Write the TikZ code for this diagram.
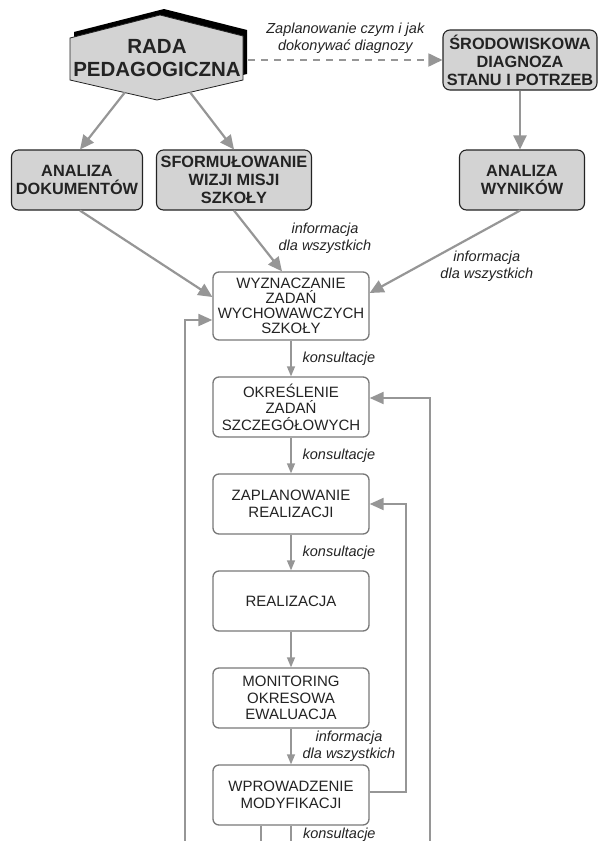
\documentclass[tikz,border=0pt]{standalone}
\usepackage{fontspec}
\setmainfont{Liberation Sans}
\usetikzlibrary{arrows.meta,calc,positioning}
\definecolor{linegray}{RGB}{150,150,150}
\definecolor{boxgray}{RGB}{211,211,211}
\definecolor{framegray}{RGB}{120,120,120}
\definecolor{inkgray}{RGB}{35,35,35}

\begin{document}
\begin{tikzpicture}[
      x=1pt, y=-1pt, node distance=97pt, on grid,
      every node/.style={text=inkgray},
      task/.style={rectangle, rounded corners=6pt, draw=framegray, line width=1.3pt, fill=white,
        minimum width=156pt, minimum height=60pt, align=center, inner sep=1pt,
        font=\fontsize{15}{16.5}\selectfont},
      greybox/.style={rectangle, rounded corners=7pt, draw=inkgray, line width=1.1pt, fill=boxgray,
        minimum height=60pt, align=center, inner sep=1pt,
        font=\fontsize{16.3}{18}\selectfont\bfseries},
      note/.style={font=\fontsize{14.5}{17}\selectfont\itshape, align=center, inner sep=1pt},
      flow/.style={draw=linegray, line width=2.2pt, -{Triangle[length=14pt,width=13pt]}},
      chain/.style={draw=linegray, line width=1.3pt, -{Triangle[length=10pt,width=8pt]}},
      loopback/.style={draw=linegray, line width=2pt, -{Triangle[length=14pt,width=12pt]}},
      stub/.style={draw=linegray, line width=2pt}]

      \useasboundingbox (0,0) rectangle (600,841);

      % Hexagon
      \coordinate (radac) at (157,58);
      \begin{scope}[shift={(radac)}]
        \fill[black] (7,-49) -- (90,-28) -- (90,16) -- (4,36) -- (-83,16) -- (-83,-26) -- cycle;
        \draw[fill=boxgray, draw=inkgray, line width=.8pt]
          (3,-43) -- (86,-22) -- (86,22) -- (0,42) -- (-87,22) -- (-87,-20) -- cycle;
      \end{scope}
      \node[font=\fontsize{20.5}{23}\selectfont\bfseries, align=center, inner sep=0pt,
            minimum width=172pt, minimum height=44pt] (rada) at (radac) {RADA\\PEDAGOGICZNA};

      % Upper boxes
      \node[greybox, minimum width=154pt] (srod) at (520,60) {ŚRODOWISKOWA\\DIAGNOZA\\STANU I POTRZEB};
      \node[greybox, minimum width=131pt] (adok) at (77,180) {ANALIZA\\DOKUMENTÓW};
      \node[greybox, minimum width=155pt, right=157pt of adok] (sform) {SFORMUŁOWANIE\\WIZJI MISJI\\SZKOŁY};
      \node[greybox, minimum width=125pt] (awyn) at (522,180) {ANALIZA\\WYNIKÓW};

      % Task chain
      \node[task, minimum height=68pt, font=\fontsize{15}{15}\selectfont] (wyz) at (291,306)
            {WYZNACZANIE\\ZADAŃ\\WYCHOWAWCZYCH\\SZKOŁY};
      \node[task, below=101pt of wyz] (okr) {OKREŚLENIE\\ZADAŃ\\SZCZEGÓŁOWYCH};
      \node[task, below=of okr] (zapl) {ZAPLANOWANIE\\REALIZACJI};
      \node[task, below=of zapl] (real) {REALIZACJA};
      \node[task, below=of real] (mon) {MONITORING\\OKRESOWA\\EWALUACJA};
      \node[task, below=of mon] (wpr) {WPROWADZENIE\\MODYFIKACJI};

      % Edges (top)
      \draw[flow] ($(rada.south)+(-32,12)$) -- ($(adok.north)+(3,0)$);
      \draw[flow] ($(rada.south)+(33,12)$) -- (sform.north);
      \draw[flow, line width=1.8pt, dash pattern=on 7pt off 6pt]
            ($(rada.east)+(5,2)$) -- node[note, midway, above=5pt] {Zaplanowanie czym i jak\\dokonywać diagnozy} (srod.west);
      \draw[flow] (srod.south) -- (srod.south |- awyn.north);
      \draw[flow] ($(adok.south)+(3,0)$) -- ($(wyz.west)+(0,-9)$);
      \draw[flow] (sform.south) -- node[note, midway, xshift=67pt, yshift=3pt] {informacja\\dla wszystkich}
            ($(wyz.north)+(-9,0)$);
      \draw[flow] ($(awyn.south)+(-2,0)$) -- node[note, midway, xshift=42pt, yshift=-14pt] {informacja\\dla wszystkich}
            ($(wyz.east)+(0,-13)$);

      % Edges (chain)
      \draw[chain] (wyz) -- node[note, right=10pt] {konsultacje} (okr);
      \draw[chain] (okr) -- node[note, right=10pt] {konsultacje} (zapl);
      \draw[chain] (zapl) -- node[note, right=10pt] {konsultacje} (real);
      \draw[chain] (real) -- (mon);
      \draw[chain] (mon) -- node[note, right=10pt] {informacja\\dla wszystkich} (wpr);

      % Feedback
      \coordinate (leftfoot) at (185,841);
      \coordinate (rightfoot) at (430,841);
      \coordinate (foota) at (261,841);
      \coordinate (footb) at (291,841);
      \draw[loopback] (leftfoot) |- ($(wyz.west)+(0,14)$);
      \draw[loopback] (rightfoot) |- ($(okr.east)+(0,-9)$);
      \draw[loopback] ($(wpr.east)+(0,-3)$) -- ++(36,0) |- (zapl.east);
      \draw[stub] ($(wpr.south)+(-30,0)$) -- (foota);
      \draw[stub] (wpr.south) -- node[note, pos=.6, right=10pt] {konsultacje} (footb);

    \end{tikzpicture}
\end{document}
